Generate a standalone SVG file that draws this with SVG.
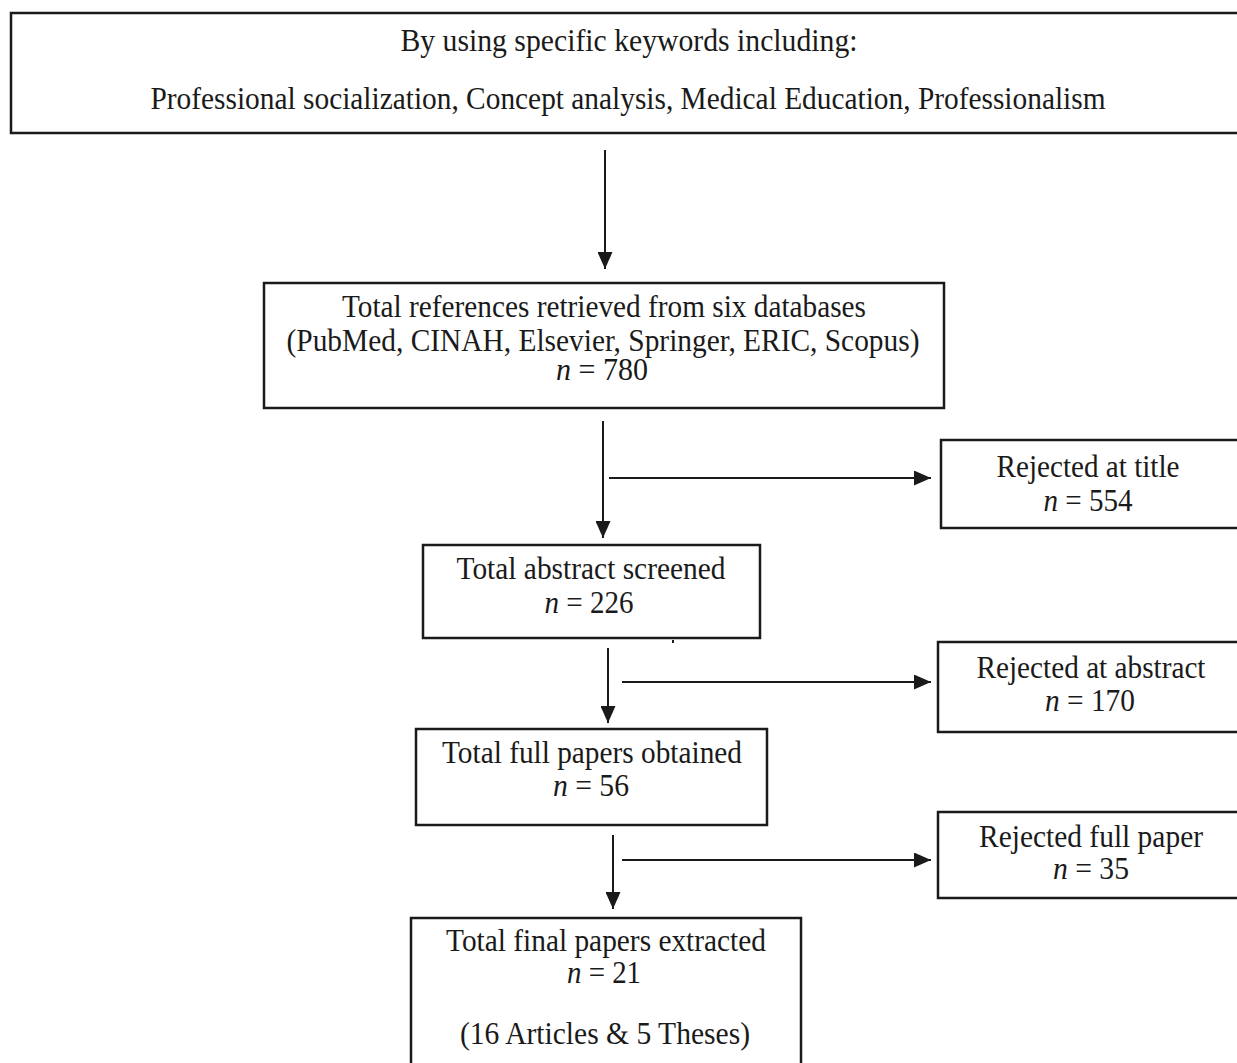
<svg xmlns="http://www.w3.org/2000/svg" width="1237" height="1063" viewBox="0 0 1237 1063">
<style>
.box{fill:#fff;stroke:#1a1a1a;stroke-width:2.5}
.t{font-family:"Liberation Serif","Times New Roman",serif;font-size:32px;fill:#1a1a1a;text-anchor:middle}
.n{font-style:italic}
.c{stroke:#1a1a1a;stroke-width:2;fill:none}
</style>
<defs>
<marker id="ah" markerUnits="userSpaceOnUse" markerWidth="17" markerHeight="15" refX="17" refY="7.5" orient="auto">
<path d="M0,0 L17,7.5 L0,15 z" fill="#1a1a1a"/>
</marker>
</defs>
<rect width="1237" height="1063" fill="#fff"/>
<g id="keywords">
<rect class="box" x="11" y="13" width="1240" height="120"/>
<text class="t" x="629" y="51" textLength="457" lengthAdjust="spacingAndGlyphs">By using specific keywords including:</text>
<text class="t" x="628" y="109" textLength="955" lengthAdjust="spacingAndGlyphs">Professional socialization, Concept analysis, Medical Education, Professionalism</text>
</g>
<g id="retrieved">
<rect class="box" x="264" y="283" width="680" height="125"/>
<text class="t" x="604" y="317" textLength="524" lengthAdjust="spacingAndGlyphs">Total references retrieved from six databases</text>
<text class="t" x="603" y="351" textLength="633" lengthAdjust="spacingAndGlyphs">(PubMed, CINAH, Elsevier, Springer, ERIC, Scopus)</text>
<text class="t" x="602" y="380" textLength="92" lengthAdjust="spacingAndGlyphs"><tspan class="n">n</tspan> = 780</text>
</g>
<g id="rej-title">
<rect class="box" x="941" y="440" width="300" height="88"/>
<text class="t" x="1088" y="477" textLength="183" lengthAdjust="spacingAndGlyphs">Rejected at title</text>
<text class="t" x="1088" y="511" textLength="89" lengthAdjust="spacingAndGlyphs"><tspan class="n">n</tspan> = 554</text>
</g>
<g id="abstract">
<rect class="box" x="423" y="545" width="337" height="93"/>
<text class="t" x="591" y="579" textLength="269" lengthAdjust="spacingAndGlyphs">Total abstract screened</text>
<text class="t" x="589" y="613" textLength="89" lengthAdjust="spacingAndGlyphs"><tspan class="n">n</tspan> = 226</text>
</g>
<g id="rej-abstract">
<rect class="box" x="938" y="642" width="303" height="90"/>
<text class="t" x="1091" y="678" textLength="229" lengthAdjust="spacingAndGlyphs">Rejected at abstract</text>
<text class="t" x="1090" y="711" textLength="90" lengthAdjust="spacingAndGlyphs"><tspan class="n">n</tspan> = 170</text>
</g>
<g id="fullpapers">
<rect class="box" x="416" y="729" width="351" height="96"/>
<text class="t" x="592" y="763" textLength="300" lengthAdjust="spacingAndGlyphs">Total full papers obtained</text>
<text class="t" x="591" y="796" textLength="76" lengthAdjust="spacingAndGlyphs"><tspan class="n">n</tspan> = 56</text>
</g>
<g id="rej-full">
<rect class="box" x="938" y="812" width="303" height="86"/>
<text class="t" x="1091" y="847" textLength="224" lengthAdjust="spacingAndGlyphs">Rejected full paper</text>
<text class="t" x="1091" y="879" textLength="76" lengthAdjust="spacingAndGlyphs"><tspan class="n">n</tspan> = 35</text>
</g>
<g id="final">
<rect class="box" x="411" y="918" width="390" height="150"/>
<text class="t" x="606" y="951" textLength="320" lengthAdjust="spacingAndGlyphs">Total final papers extracted</text>
<text class="t" x="604" y="983" textLength="74" lengthAdjust="spacingAndGlyphs"><tspan class="n">n</tspan> = 21</text>
<text class="t" x="605" y="1044" textLength="290" lengthAdjust="spacingAndGlyphs">(16 Articles &amp; 5 Theses)</text>
</g>
<g id="connectors">
<line class="c" x1="605" y1="150" x2="605" y2="269" marker-end="url(#ah)"/>
<line class="c" x1="603" y1="421" x2="603" y2="538" marker-end="url(#ah)"/>
<line class="c" x1="609" y1="478" x2="931" y2="478" marker-end="url(#ah)"/>
<line class="c" x1="608" y1="648" x2="608" y2="723" marker-end="url(#ah)"/>
<line class="c" x1="622" y1="682" x2="931" y2="682" marker-end="url(#ah)"/>
<line class="c" x1="613" y1="835" x2="613" y2="909" marker-end="url(#ah)"/>
<line class="c" x1="622" y1="860" x2="931" y2="860" marker-end="url(#ah)"/>
</g>
<rect x="672" y="640" width="2" height="3" fill="#1a1a1a"/>
</svg>
